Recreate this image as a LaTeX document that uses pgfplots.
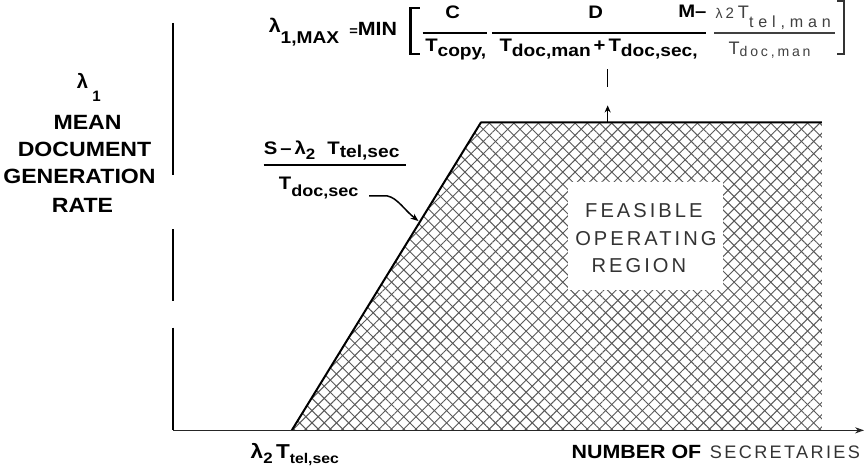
\documentclass[border=0pt]{standalone}
\usepackage{fontspec}
\setmainfont{Liberation Sans}
% bold lettering is slightly wide, the light lettering is tracked out
\newfontfamily\wide[FakeStretch=1.12]{Liberation Sans}
\newfontfamily\thin{Liberation Sans}
\usepackage{pgfplots}
\pgfplotsset{compat=1.18}
\usetikzlibrary{patterns.meta,arrows.meta}

\newcommand\fs[1]{\fontsize{#1}{#1}\selectfont}
\newcommand\lo[2]{\raisebox{-#1pt}{#2}}
\newcommand\ls[1]{\addfontfeature{LetterSpace=#1}}

\begin{document}
\begin{tikzpicture}
\begin{axis}[
  scale only axis, width=865pt, height=475pt,
  xmin=0, xmax=865, ymin=0, ymax=475, y dir=reverse,
  hide axis, clip=false,
]
% feasible operating region (cross hatched)
\addplot[draw=none, pattern={Lines[angle=45,distance=8.6pt,line width=0.95pt]}, pattern color=black!65]
  coordinates {(293,437) (481,131) (820,131) (820,437)};
\addplot[draw=none, pattern={Lines[angle=-45,distance=8.6pt,line width=0.95pt]}, pattern color=black!65]
  coordinates {(293,437) (481,131) (820,131) (820,437)};
\fill[white] (568,190) rectangle (722,298);

% boundary: rising limit and the plateau at lambda_1,max
\addplot[black, line width=2pt, line join=round]
  coordinates {(293,437) (481,131) (820,131)};

% axes
\addplot[black, line width=2pt] coordinates {(175,32) (175,183)};
\addplot[black, line width=2pt] coordinates {(175,237) (175,308)};
\addplot[black, line width=2pt] coordinates {(175,335) (175,437)};
\addplot[black!85, line width=1.6pt, -{Stealth[length=9pt,width=6pt]}] coordinates {(175,437) (862,437)};

% y label
\node[anchor=base] at (85,97) {\fs{20}\bfseries λ};
\node[anchor=base] at (99,110) {\fs{15}\bfseries 1};
\node[anchor=base] at (90,138) {\fs{20.5}\wide\bfseries MEAN};
\node[anchor=base] at (87,165) {\fs{20.5}\wide\bfseries DOCUMENT};
\node[anchor=base] at (82,192) {\fs{20.5}\wide\bfseries GENERATION};
\node[anchor=base] at (85,220) {\fs{20.5}\wide\bfseries RATE};

% formula for the plateau
\node[anchor=base west, inner sep=0] at (270,42) {\fs{19}\wide\bfseries λ\lo{10}{\fs{17}1,MAX}};
\node[anchor=base west, inner sep=0] at (350,45) {\fs{19}\wide\bfseries{\fs{13}=}MIN};
\draw[line width=2.5pt] (420,17) -- (411,17) -- (411,63) -- (420,63);
\node[anchor=base, inner sep=0] at (453,28) {\fs{18}\wide\bfseries C};
\draw[line width=2pt] (423,42) -- (487,42);
\node[anchor=base, inner sep=0] at (456,60) {\fs{18}\wide\bfseries T\lo{5}{\fs{17}copy,}};
\node[anchor=base, inner sep=0] at (595,28) {\fs{18}\wide\bfseries D};
\draw[line width=2pt] (492,42) -- (705,42);
\node[anchor=base, inner sep=0] at (598,60) {\fs{18}\wide\bfseries T\lo{5}{\fs{17}doc,man}\,+\,T\lo{5}{\fs{17}doc,sec,}};
\node[anchor=base west, inner sep=0] at (677,27) {\fs{18}\wide\bfseries M–};
\node[anchor=base west, inner sep=0, black!75] at (714,28) {\thin\fs{14}λ\hspace{3pt}\fs{15}2\hspace{4pt}\fs{18}T\lo{9}{\fs{16}\ls{30}tel,man}};
\draw[line width=1.2pt, black!75] (713,42) -- (833,42);
\node[anchor=base west, inner sep=0, black!75] at (727,63) {\thin\fs{18}T\lo{2}{\fs{14}\ls{20}doc,man}};
\draw[line width=1.5pt, black!80] (835,10) -- (842,10) -- (842,63) -- (835,63);
\draw[line width=1.3pt] (607,78) -- (607,96);
\draw[line width=1.3pt, -{Stealth[length=7pt,width=6pt]}] (607,131) -- (607,114);

% rising limit label
\node[anchor=base west, inner sep=0] at (265,163) {\fs{18}\wide\bfseries S\,–\,λ\lo{5}{\fs{15}2}\hspace{12pt}T\lo{3}{\fs{17}tel,sec}};
\draw[line width=2pt] (265,173) -- (407,173);
\node[anchor=base west, inner sep=0] at (280,198) {\fs{18}\wide\bfseries T\lo{7}{\fs{16}doc,sec}};
\draw[line width=1.5pt, -{Stealth[length=8pt,width=6pt]}] (370,204) -- (388,204) .. controls (398,206) and (405,218) .. (419,229);

% region label
\node[anchor=base, inner sep=0, black!80] at (643,225) {\thin\fs{20}\ls{15}FEASIBLE};
\node[anchor=base, inner sep=0, black!80] at (645,253) {\thin\fs{20}\ls{15}OPERATING};
\node[anchor=base, inner sep=0, black!80] at (638,280) {\thin\fs{20}\ls{15}REGION};

% x labels
\node[anchor=base west, inner sep=0] at (252,465) {\fs{20}\wide\bfseries λ\lo{5}{\fs{15}2}\,T\lo{5}{\fs{14}tel,sec}};
\node[anchor=base west, inner sep=0] at (571,465) {\fs{19}\wide\bfseries NUMBER OF};
\node[anchor=base east, inner sep=0, black!80] at (858,465) {\thin\fs{18}\ls{13}SECRETARIES};
\end{axis}
\end{tikzpicture}
\end{document}
